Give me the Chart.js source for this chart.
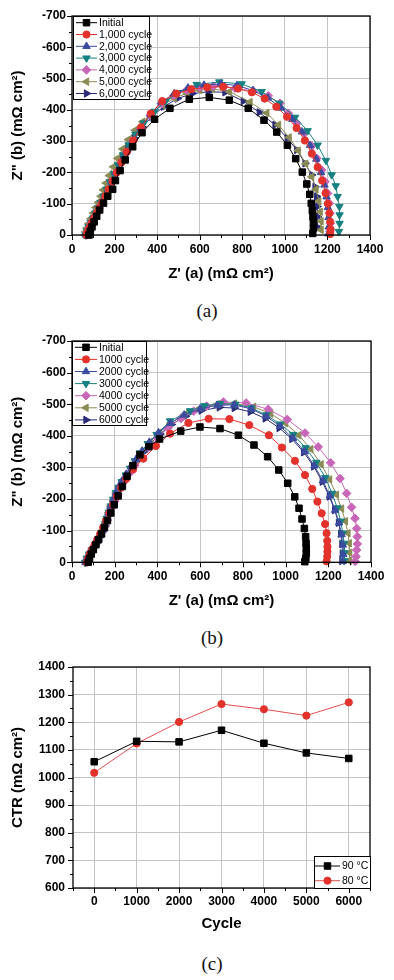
<!DOCTYPE html>
<html>
<head>
<meta charset="utf-8">
<script src="https://cdn.jsdelivr.net/npm/chart.js@4.4.1/dist/chart.umd.min.js"></script>
<style>
body{margin:0;background:#fff;width:394px;height:980px;position:relative;overflow:hidden}
canvas{position:absolute;left:0}
.cap{position:absolute;font-family:"Liberation Serif","DejaVu Serif",serif;font-size:19px;color:#111;width:60px;text-align:center;line-height:22px}
</style>
</head>
<body>
<canvas id="chartA" width="394" height="290" style="top:0px"></canvas>
<div class="cap" style="left:177px;top:300px">(a)</div>
<canvas id="chartB" width="394" height="290" style="top:325px"></canvas>
<div class="cap" style="left:182px;top:627px">(b)</div>
<canvas id="chartC" width="394" height="290" style="top:650px"></canvas>
<div class="cap" style="left:182px;top:953px">(c)</div>
<script>
// ---- data (a): Z' , -Z'' pairs ----
var namesA = ['Initial', '1,000 cycle', '2,000 cycle', '3,000 cycle', '4,000 cycle', '5,000 cycle', '6,000 cycle'];
var a_initial = [[80,0],[86,-12],[94,-26],[104,-42],[116,-60],[130,-80],[148,-102],[168,-124],[191,-146],[204,-174],[226,-206],[250,-240],[285,-282],[329,-327],[388,-370],[460,-405],[551,-434],[645,-440],[739,-431],[828,-405],[902,-367],[962,-329],[1012,-287],[1051,-244],[1082,-201],[1103,-163],[1117,-130],[1124,-101],[1129,-78],[1132,-58],[1134,-39],[1134,-21],[1131,-5]];
var a_1000 = [[68,0],[74,-11],[82,-24],[92,-38],[103,-53],[115,-69],[128,-86],[142,-104],[157,-124],[172,-146],[190,-172],[210,-200],[232,-232],[258,-266],[288,-302],[324,-344],[370,-388],[424,-428],[490,-452],[560,-466],[635,-472],[710,-474],[780,-468],[845,-456],[905,-436],[960,-410],[1010,-378],[1055,-342],[1094,-302],[1127,-260],[1154,-217],[1175,-174],[1191,-134],[1202,-100],[1209,-70],[1213,-42],[1215,-18],[1213,-3]];
var a_2000 = [[66,0],[72,-11],[80,-24],[90,-38],[101,-53],[113,-69],[126,-86],[140,-104],[155,-124],[170,-146],[187,-172],[207,-200],[229,-232],[255,-266],[285,-302],[322,-342],[368,-386],[420,-425],[480,-452],[545,-470],[620,-479],[700,-483],[775,-478],[850,-462],[920,-438],[982,-406],[1035,-370],[1080,-330],[1118,-287],[1148,-243],[1170,-200],[1186,-160],[1196,-122],[1202,-88],[1205,-56],[1206,-26],[1204,-4]];
var a_3000 = [[64,0],[70,-12],[78,-26],[88,-40],[98,-54],[110,-70],[122,-86],[134,-104],[148,-124],[162,-146],[178,-170],[196,-196],[216,-224],[240,-256],[266,-288],[298,-322],[338,-358],[388,-395],[440,-428],[499,-455],[586,-481],[692,-489],[797,-483],[891,-458],[974,-421],[1048,-376],[1107,-333],[1154,-287],[1193,-238],[1220,-192],[1239,-157],[1248,-123],[1256,-91],[1257,-64],[1257,-37],[1254,-11]];
var a_4000 = [[67,0],[73,-11],[81,-24],[91,-38],[102,-53],[114,-69],[127,-86],[141,-104],[156,-124],[171,-146],[189,-172],[209,-200],[231,-232],[257,-266],[287,-302],[323,-340],[368,-382],[420,-420],[478,-446],[539,-463],[600,-472],[664,-476],[715,-474],[766,-469],[852,-460],[922,-445],[977,-421],[1016,-389],[1056,-357],[1091,-325],[1126,-284],[1150,-245],[1173,-208],[1189,-170],[1201,-133],[1209,-101],[1212,-69],[1214,-37],[1212,-11]];
var a_5000 = [[60,0],[64,-10],[70,-22],[78,-36],[88,-52],[100,-70],[112,-88],[124,-104],[136,-124],[147,-144],[160,-166],[175,-190],[194,-218],[214,-245],[238,-275],[265,-305],[296,-335],[332,-362],[375,-390],[425,-415],[480,-437],[540,-453],[600,-463],[660,-467],[740,-458],[836,-425],[915,-390],[970,-352],[1020,-312],[1062,-270],[1098,-228],[1126,-186],[1146,-146],[1159,-108],[1166,-74],[1170,-44],[1170,-16]];
var a_6000 = [[66,0],[72,-12],[80,-26],[90,-40],[100,-54],[112,-70],[124,-86],[137,-104],[150,-122],[165,-142],[180,-164],[196,-188],[214,-214],[236,-245],[262,-278],[292,-310],[330,-345],[375,-378],[430,-410],[495,-436],[565,-452],[640,-458],[719,-456],[805,-428],[880,-392],[954,-352],[1012,-309],[1056,-272],[1095,-229],[1126,-192],[1142,-154],[1150,-123],[1152,-91],[1154,-58],[1152,-26]];

// ---- data (b) ----
var namesB = ['Initial', '1000 cycle', '2000 cycle', '3000 cycle', '4000 cycle', '5000 cycle', '6000 cycle'];
var b_initial = [[76,0],[82,-12],[90,-26],[100,-40],[112,-56],[124,-72],[138,-90],[152,-110],[166,-132],[182,-156],[198,-182],[216,-210],[236,-240],[258,-272],[285,-306],[318,-340],[360,-366],[410,-390],[509,-415],[599,-428],[693,-423],[779,-402],[852,-371],[916,-334],[968,-292],[1010,-250],[1043,-207],[1063,-171],[1077,-137],[1088,-107],[1094,-81],[1096,-60],[1097,-44],[1097,-28],[1095,-13],[1090,-2]];
var b_1000 = [[70,0],[76,-12],[84,-26],[94,-40],[106,-56],[118,-72],[132,-90],[146,-110],[160,-132],[175,-156],[192,-182],[210,-208],[230,-236],[254,-264],[286,-294],[334,-328],[393,-368],[459,-407],[545,-441],[640,-454],[737,-453],[830,-434],[922,-402],[983,-363],[1044,-321],[1091,-276],[1125,-232],[1149,-192],[1169,-155],[1185,-121],[1192,-92],[1195,-68],[1196,-49],[1196,-34],[1195,-18],[1192,-3]];
var b_2000 = [[63,0],[70,-12],[80,-25],[92,-38],[106,-53],[120,-68],[132,-85],[144,-103],[153,-120],[161,-138],[170,-157],[180,-177],[192,-198],[205,-219],[218,-238],[234,-257],[254,-279],[276,-302],[300,-326],[328,-352],[362,-380],[405,-410],[460,-440],[525,-466],[600,-485],[680,-497],[760,-498],[840,-485],[910,-462],[975,-430],[1035,-392],[1090,-350],[1135,-305],[1175,-258],[1207,-210],[1232,-165],[1250,-125],[1262,-88],[1268,-55],[1270,-25],[1268,-3]];
var b_3000 = [[61,0],[69,-13],[80,-26],[92,-39],[108,-55],[123,-70],[135,-88],[147,-107],[155,-122],[162,-139],[172,-158],[181,-178],[193,-199],[206,-220],[218,-237],[233,-255],[252,-276],[272,-297],[294,-321],[318,-346],[355,-375],[396,-404],[459,-447],[553,-479],[620,-495],[693,-502],[765,-500],[840,-488],[910,-466],[975,-437],[1036,-404],[1094,-362],[1144,-316],[1186,-268],[1218,-218],[1242,-172],[1258,-130],[1268,-92],[1274,-60],[1276,-30],[1274,-5]];
var b_4000 = [[66,0],[72,-12],[81,-25],[92,-38],[106,-52],[120,-66],[133,-82],[145,-98],[156,-115],[166,-133],[176,-152],[187,-172],[200,-193],[214,-214],[230,-236],[248,-258],[270,-282],[295,-307],[325,-335],[360,-364],[400,-393],[450,-425],[510,-455],[570,-478],[630,-494],[709,-507],[815,-504],[919,-484],[1008,-452],[1091,-409],[1153,-365],[1211,-315],[1255,-265],[1286,-218],[1309,-174],[1325,-139],[1333,-107],[1336,-81],[1336,-58],[1333,-39],[1330,-18],[1326,-3]];
var b_5000 = [[64,0],[71,-12],[81,-25],[93,-38],[107,-53],[121,-68],[133,-85],[145,-103],[154,-120],[162,-138],[171,-157],[181,-177],[193,-198],[206,-219],[220,-238],[236,-257],[256,-279],[278,-302],[303,-326],[331,-352],[365,-380],[408,-410],[462,-440],[528,-468],[600,-488],[680,-500],[760,-502],[850,-492],[930,-470],[1000,-440],[1062,-402],[1118,-358],[1166,-310],[1206,-262],[1238,-214],[1262,-170],[1280,-130],[1292,-92],[1298,-60],[1300,-30],[1298,-5]];
var b_6000 = [[67,0],[74,-12],[84,-25],[96,-38],[110,-53],[123,-67],[135,-83],[146,-100],[155,-117],[164,-135],[173,-154],[184,-174],[196,-195],[210,-216],[224,-235],[240,-254],[260,-276],[282,-299],[307,-323],[335,-349],[369,-377],[412,-406],[466,-436],[532,-462],[605,-480],[690,-490],[760,-488],[835,-476],[905,-455],[970,-425],[1030,-390],[1085,-348],[1132,-303],[1172,-255],[1205,-208],[1230,-165],[1248,-125],[1258,-90],[1264,-58],[1266,-28],[1264,-4]];

// ---- data (c) ----
var cycles = [0, 1000, 2000, 3000, 4000, 5000, 6000];
var ctr90 = [1057, 1131, 1129, 1171, 1124, 1089, 1069];
var ctr80 = [1017, 1123, 1201, 1266, 1247, 1224, 1272];
var namesC = ['90 \u00B0C', '80 \u00B0C'];

// ---- styles ----
var colors = ['#000000', '#e3312b', '#3b4ba0', '#168080', '#c866b8', '#8b8b55', '#2a2a78'];
var shapes = ['rect', 'circle', 'triangle', 'triangle', 'rectRot', 'triangle', 'triangle'];
var turns = [0, 0, 0, 180, 0, 270, 90];
var radii = [4.6, 3.6, 4.3, 4.3, 4.3, 4.3, 4.3];

var tickFont = {family: 'Liberation Sans, Arial, sans-serif', size: 12, weight: 'bold'};
var titleFont = {family: 'Liberation Sans, Arial, sans-serif', size: 15, weight: 'bold'};

function makeSet(label, pts, i, lineColor) {
	return {
		label: label,
		data: pts,
		showLine: true,
		borderColor: lineColor || colors[i],
		backgroundColor: colors[i],
		pointBorderColor: colors[i],
		pointBackgroundColor: colors[i],
		borderWidth: 1,
		pointStyle: shapes[i],
		pointRotation: turns[i],
		pointRadius: radii[i],
		pointHoverRadius: radii[i],
		pointBorderWidth: 1,
		clip: false
	};
}

function nyquistSets(names, series) {
	var sets = [];
	for (var i in series) {
		var pts = series[i].map(function(p){ return {x: p[0], y: p[1]}; });
		sets.push(makeSet(names[i], pts, +i));
	}
	return sets;
}

// frame, outward ticks (major + minor) and an in-plot legend
var decoPlugin = {
	id: 'deco',
	afterDraw: function(chart) {
		var o = chart.options.plugins.deco;
		var ctx = chart.ctx, a = chart.chartArea;
		var xs = chart.scales.x, ys = chart.scales.y;
		ctx.save();
		ctx.strokeStyle = '#000';
		ctx.lineWidth = 1;
		ctx.beginPath();
		var majX = xs.ticks.map(function(t){ return t.value; });
		var majY = ys.ticks.map(function(t){ return t.value; });
		for (var v = o.xMin; v <= o.xMax + 1e-6; v += o.xMinor) {
			var px = Math.round(xs.getPixelForValue(v)) + 0.5;
			var len = majX.indexOf(v) >= 0 ? 5 : 3;
			ctx.moveTo(px, a.bottom);
			ctx.lineTo(px, a.bottom + len);
		}
		for (var w = o.yMin; w <= o.yMax + 1e-6; w += o.yMinor) {
			var py = Math.round(ys.getPixelForValue(w)) + 0.5;
			var ln = majY.indexOf(w) >= 0 ? 5 : 3;
			ctx.moveTo(a.left, py);
			ctx.lineTo(a.left - ln, py);
		}
		ctx.stroke();
		ctx.lineWidth = 1.3;
		ctx.strokeRect(a.left, a.top, a.right - a.left, a.bottom - a.top);

		// legend
		var L = o.legend;
		ctx.fillStyle = '#fff';
		ctx.fillRect(L.x, L.y, L.w, L.h);
		ctx.lineWidth = 1;
		ctx.strokeStyle = '#000';
		ctx.strokeRect(L.x + 0.5, L.y + 0.5, L.w, L.h);
		ctx.font = '10.5px "Liberation Sans", Arial, sans-serif';
		ctx.textBaseline = 'middle';
		chart.data.datasets.forEach(function(ds, i) {
			var y = L.y + L.row0 + i * L.rowH;
			ctx.strokeStyle = ds.borderColor;
			ctx.lineWidth = 1;
			ctx.beginPath();
			ctx.moveTo(L.x + L.l0, y);
			ctx.lineTo(L.x + L.l1, y);
			ctx.stroke();
			ctx.fillStyle = ds.pointBackgroundColor;
			ctx.strokeStyle = ds.pointBorderColor;
			Chart.helpers.drawPoint(ctx, {pointStyle: ds.pointStyle, rotation: ds.pointRotation, radius: ds.pointRadius, borderWidth: 1}, L.x + (L.l0 + L.l1) / 2, y);
			ctx.fillStyle = '#000';
			ctx.fillText(ds.label, L.x + L.tx, y + 0.5);
		});
		ctx.restore();
	}
};

function axisOpts(min, max, step, title, titlePad, fitSize, horiz, tickPad, extra) {
	var s = {
		type: 'linear',
		min: min,
		max: max,
		ticks: {
			stepSize: step,
			font: tickFont,
			color: '#000',
			padding: tickPad,
			autoSkip: false,
			maxRotation: 0,
			callback: function(v){ return String(v); }
		},
		grid: {color: '#c4c4c4', lineWidth: 1, drawTicks: false},
		border: {display: false},
		title: {display: true, text: title, font: titleFont, color: '#000', padding: titlePad},
		afterFit: function(scale) {
			if (horiz) scale.height = fitSize; else scale.width = fitSize;
		}
	};
	if (extra) for (var k in extra) s[k] = extra[k];
	return s;
}

function baseOptions(pad, xAxis, yAxis, deco) {
	return {
		responsive: false,
		animation: false,
		layout: {padding: pad},
		plugins: {legend: {display: false}, tooltip: {enabled: false}, deco: deco},
		scales: {x: xAxis, y: yAxis}
	};
}

Chart.defaults.font.family = 'Liberation Sans, Arial, sans-serif';

new Chart(document.getElementById('chartA'), {
	type: 'scatter',
	data: {datasets: nyquistSets(namesA, [a_initial, a_1000, a_2000, a_3000, a_4000, a_5000, a_6000])},
	options: baseOptions(
		{top: 16, right: 24, left: 0, bottom: 0},
		axisOpts(0, 1400, 200, "Z' (a) (m\u03A9 cm\u00B2)", {top: 0, bottom: 7}, 55, true, 7),
		axisOpts(-700, 0, 100, 'Z" (b) (m\u03A9 cm\u00B2)', {top: 9, bottom: 0}, 72, false, 6, {reverse: true}),
		{xMin: 0, xMax: 1400, xMinor: 100, yMin: -700, yMax: 0, yMinor: 50,
		 legend: {x: 73, y: 16, w: 76, h: 83, row0: 6.7, rowH: 11.8, l0: 3, l1: 24, tx: 26}}
	),
	plugins: [decoPlugin]
});

new Chart(document.getElementById('chartB'), {
	type: 'scatter',
	data: {datasets: nyquistSets(namesB, [b_initial, b_1000, b_2000, b_3000, b_4000, b_5000, b_6000])},
	options: baseOptions(
		{top: 16, right: 23, left: 0, bottom: 0},
		axisOpts(0, 1400, 200, "Z' (a) (m\u03A9 cm\u00B2)", {top: 0, bottom: 5}, 52.7, true, 7),
		axisOpts(-700, 0, 100, 'Z" (b) (m\u03A9 cm\u00B2)', {top: 9, bottom: 0}, 72, false, 6, {reverse: true}),
		{xMin: 0, xMax: 1400, xMinor: 100, yMin: -700, yMax: 0, yMinor: 50,
		 legend: {x: 72, y: 16, w: 74, h: 84, row0: 6.3, rowH: 12.1, l0: 3, l1: 25, tx: 27}}
	),
	plugins: [decoPlugin]
});

var cData90 = cycles.map(function(c, i){ return {x: c, y: ctr90[i]}; });
var cData80 = cycles.map(function(c, i){ return {x: c, y: ctr80[i]}; });

new Chart(document.getElementById('chartC'), {
	type: 'scatter',
	data: {datasets: [
		makeSet(namesC[0], cData90, 0),
		makeSet(namesC[1], cData80, 1, '#e05050')
	]},
	options: baseOptions(
		{top: 17, right: 24, left: 0, bottom: 0},
		axisOpts(-500, 6500, 1000, 'Cycle', {top: 0, bottom: 7}, 52, true, 6, {
			afterBuildTicks: function(scale){ scale.ticks = cycles.map(function(v){ return {value: v}; }); }
		}),
		axisOpts(600, 1400, 100, 'CTR (m\u03A9 cm\u00B2)', {top: 9, bottom: 0}, 73, false, 8),
		{xMin: -500, xMax: 6500, xMinor: 500, yMin: 600, yMax: 1400, yMinor: 50,
		 legend: {x: 314, y: 206, w: 56, h: 32, row0: 10, rowH: 14.7, l0: 1, l1: 26, tx: 28}}
	),
	plugins: [decoPlugin]
});
</script>
</body>
</html>
